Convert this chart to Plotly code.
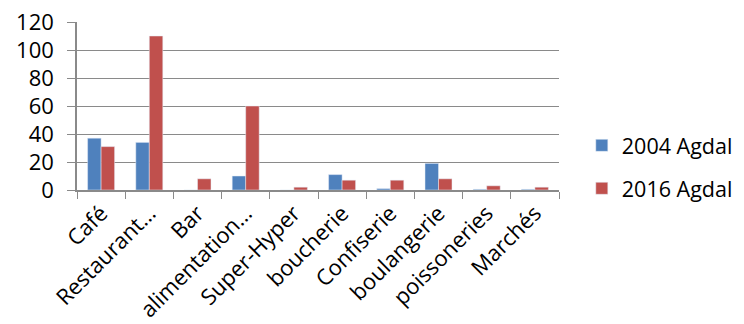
import plotly.graph_objects as go

categories = ["Café", "Restaurant…", "Bar", "alimentation…", "Super-Hyper",
              "boucherie", "Confiserie", "boulangerie", "poissoneries", "Marchés"]
agdal_2004 = [37, 34, 0, 10, 0, 11, 1, 19, 0.5, 0.5]
agdal_2016 = [31, 110, 8, 60, 2, 7, 7, 8, 3, 2]

FONT = "Open Sans"
GRID = "#8a8a8a"

fig = go.Figure()
fig.add_bar(x=categories, y=agdal_2004, name="2004 Agdal", marker_color="#4F81BD",
            legendgroup="a")
fig.add_bar(x=categories, y=agdal_2016, name="2016 Agdal", marker_color="#C0504D",
            legendgroup="b")

fig.update_layout(
    width=744, height=324,
    margin=dict(l=77, r=185, t=22, b=134),
    paper_bgcolor="white", plot_bgcolor="white",
    barmode="group", bargap=0.44, bargroupgap=0,
    font=dict(family=FONT, size=20, color="black"),
    legend=dict(xref="container", yref="container",
                x=0.782, xanchor="left", y=0.485, yanchor="middle",
                font=dict(size=21.5), tracegroupgap=12, itemwidth=30,
                traceorder="grouped", bgcolor="rgba(0,0,0,0)"),
    showlegend=True,
)
fig.update_xaxes(
    type="category", tickangle=-45, tickson="boundaries", automargin=False,
    ticks="outside", ticklen=7, tickcolor=GRID,
    showline=True, linecolor=GRID, linewidth=1.5,
    showgrid=False, tickfont=dict(size=22),
)
fig.update_yaxes(
    range=[0, 120], dtick=20, showgrid=True, gridcolor=GRID, gridwidth=1.3,
    ticks="outside", ticklen=8, tickcolor=GRID, automargin=False,
    ticklabelstandoff=9,
    showline=True, linecolor=GRID, linewidth=1.5, zeroline=False,
    tickfont=dict(size=22),
)

fig.write_html("out.html")
